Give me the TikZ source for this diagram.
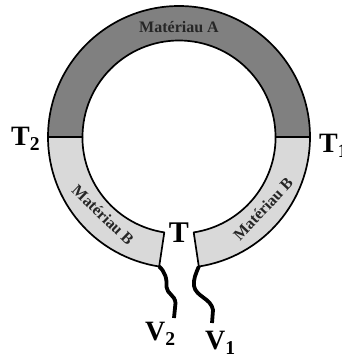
\documentclass[tikz,border=0pt]{standalone}
\usepackage{fontspec}
\setmainfont{Liberation Serif}
\tikzset{
  ringline/.style={draw=black,line width=1.7pt,line join=round},
  matA/.style={ringline,fill=black!50},
  matB/.style={ringline,fill=black!15},
  wire/.style={draw=black,line width=3.8pt},
  biglabel/.style={inner sep=0pt,font=\fontsize{28}{28}\selectfont\bfseries},
  matlabel/.style={inner sep=0pt,text=black!85,font=\fontsize{16}{16}\selectfont\bfseries}
}
\begin{document}
\begin{tikzpicture}[x=1pt,y=-1pt]
\useasboundingbox (0,0) rectangle (341,361);
\coordinate (c) at (179,137);
% Material A
\draw[matA] (48,137) arc[start angle=180,end angle=360,radius=131] -- (275.5,137)
  arc[start angle=360,end angle=180,radius=96.5] -- cycle;
% Material B, left (y axis is flipped, so angles run clockwise on the page)
\draw[matB] (48,137) arc[start angle=180,end angle=98.7,radius=131] coordinate (ol)
  -- (164.3,232.4) coordinate (il) arc[start angle=98.7,end angle=180,radius=96.5] -- cycle;
% Material B, right
\draw[matB] (310,137) arc[start angle=0,end angle=81.3,radius=131] coordinate (or)
  -- (193.7,232.4) coordinate (ir) arc[start angle=81.3,end angle=0,radius=96.5] -- cycle;
\node[matlabel] (ma) at (179,27) {Matériau A};
\node[matlabel,rotate=-44] (mb1) at (103,215) {Matériau B};
\node[matlabel,rotate=47] (mb2) at (263,209) {Matériau B};
\node[biglabel,font=\fontsize{30}{30}\selectfont\bfseries] (t) at (179,233) {T};
\node[biglabel,anchor=west] (t2) at (11,139) {T\textsubscript{2}};
\node[biglabel,anchor=west] (t1) at (319,146) {T\textsubscript{1}};
\node[biglabel,anchor=west] (v2) at (145,334) {V\textsubscript{2}};
\node[biglabel,anchor=west] (v1) at (205,343) {V\textsubscript{1}};
\coordinate (w2end) at (174,318);
\coordinate (w1end) at (212,323);
\draw[wire] (ol) .. controls (165,272) and (167,278) .. (166.5,287)
  .. controls (167,294) and (175,295) .. (175.5,303) -- (w2end);
\draw[wire] (or) .. controls (196,273) and (193,280) .. (194,286)
  .. controls (196,297) and (211,298) .. (213,310) -- (w1end);
\end{tikzpicture}
\end{document}
